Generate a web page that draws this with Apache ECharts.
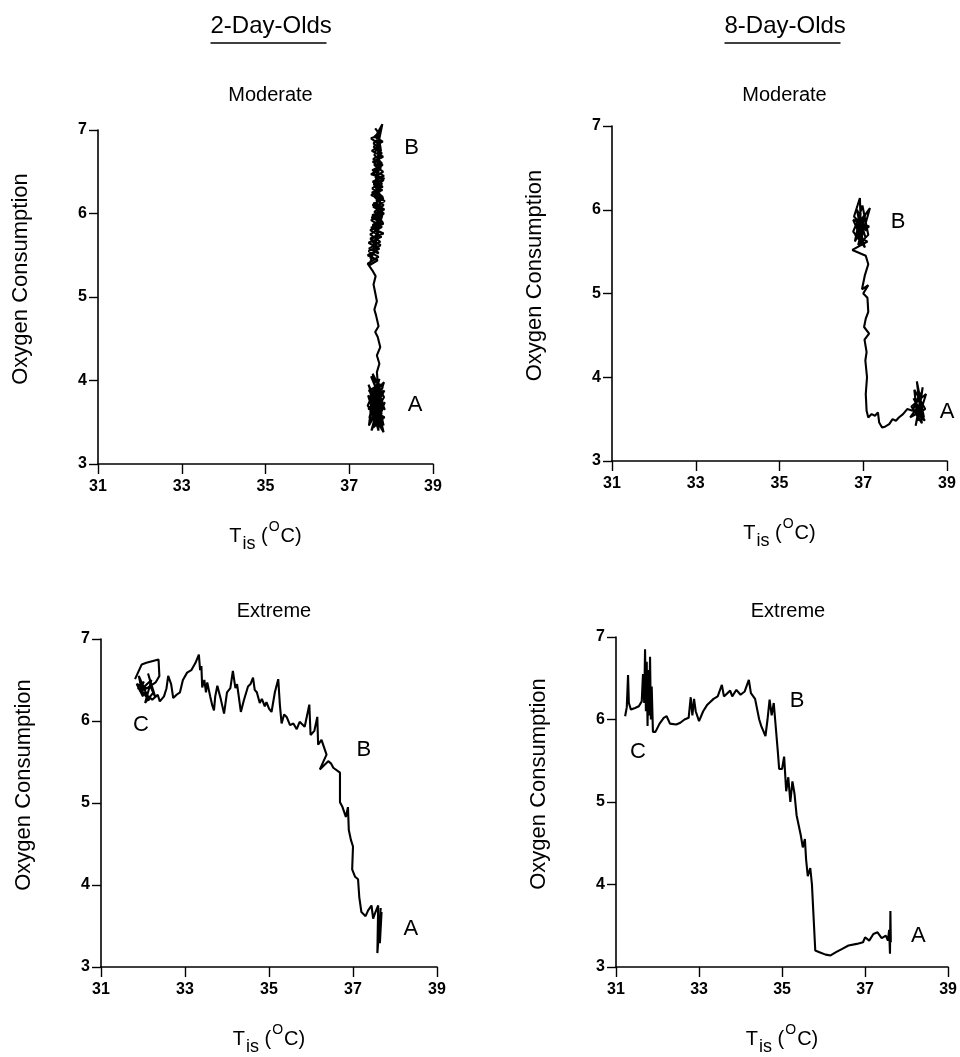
<!DOCTYPE html>
<html>
<head>
<meta charset="utf-8">
<script src="https://cdn.jsdelivr.net/npm/echarts@6/dist/echarts.min.js"></script>
<style>
html,body{margin:0;padding:0;background:#fff;}
#chart{width:960px;height:1057px;}
</style>
</head>
<body>
<div id="chart"></div>
<script>
// ---------- data (x = T_is in °C, y = oxygen consumption) ----------
const groupTitles = ['2-Day-Olds', '8-Day-Olds'];
const panelTitles = ['Moderate', 'Moderate', 'Extreme', 'Extreme'];
const xTicks = [31, 33, 35, 37, 39];
const yTicks = [3, 4, 5, 6, 7];

const moderate2 = [
  [37.62,3.72],[37.50,3.85],[37.78,3.60],[37.46,3.95],[37.80,3.42],[37.55,3.78],[37.84,3.88],[37.48,3.55],
  [37.72,4.02],[37.44,3.70],[37.82,3.38],[37.58,3.90],[37.47,3.46],[37.79,3.75],[37.52,4.05],[37.85,3.65],
  [37.45,3.82],[37.70,3.40],[37.60,4.00],[37.80,3.92],[37.50,3.62],[37.76,3.52],[37.56,4.08],[37.83,3.80],
  [37.48,3.50],[37.81,3.70],[37.53,3.40],[37.77,3.86],[37.46,3.66],[37.84,3.56],[37.58,3.44],[37.74,3.96],
  [37.50,3.76],[37.82,3.46],[37.62,3.92],[37.47,3.88],[37.79,3.64],[37.55,3.58],[37.85,3.74],[37.64,3.50],
  [37.70,3.84],[37.52,3.68],[37.76,3.44],[37.60,3.62],[37.83,3.98],[37.49,3.80],[37.68,3.56],[37.57,3.86],
  [37.80,3.50],[37.54,3.72],[37.73,3.66],[37.66,4.10],
  [37.72,4.20],[37.66,4.30],[37.74,4.40],[37.68,4.52],[37.62,4.58],[37.70,4.65],[37.64,4.78],
  [37.60,4.85],[37.66,4.95],[37.62,5.05],[37.58,5.15],[37.63,5.25],[37.55,5.32],[37.44,5.40],[37.70,5.48],
  [37.46,5.55],[37.75,5.62],[37.50,5.70],[37.82,5.76],[37.52,5.83],[37.80,5.90],[37.55,5.98],[37.84,6.05],
  [37.58,6.12],[37.82,6.18],[37.54,6.25],[37.80,6.32],[37.56,6.38],[37.83,6.45],[37.55,6.52],[37.80,6.58],
  [37.57,6.65],[37.78,6.72],[37.58,6.80],[37.80,6.86],[37.60,6.92],[37.77,7.00],[37.66,6.95],[37.79,7.07],
  [37.70,6.85],[37.60,6.70],[37.78,6.60],[37.58,6.48],[37.82,6.40],[37.55,6.30],[37.80,6.20],[37.56,6.10],
  [37.83,6.00],[37.52,5.92],[37.78,5.84],[37.50,5.75],[37.74,5.66],[37.47,5.58],[37.70,5.52],[37.58,5.62],
  [37.79,5.98],[37.62,6.35],[37.75,6.78],[37.68,6.98],[37.62,7.02],[37.74,6.94],[37.52,6.90],[37.74,6.82],
  [37.54,6.75],[37.81,6.68],[37.56,6.62],[37.76,6.55],[37.52,6.47],[37.84,6.42],[37.58,6.35],[37.79,6.28],
  [37.52,6.22],[37.85,6.15],[37.57,6.08],[37.80,6.02],[37.53,5.95],[37.82,5.88],[37.50,5.80],[37.77,5.72],
  [37.46,5.65],[37.72,5.58],[37.44,5.50],[37.68,5.44],[37.48,5.38],[37.62,5.60],[37.70,5.90],[37.64,6.25],
  [37.72,6.60],[37.66,6.88],[37.58,6.84],[37.76,6.76],[37.60,6.58],[37.81,6.50],[37.62,6.44],[37.78,6.36],
  [37.60,6.20],[37.82,6.10],[37.60,6.02],[37.76,5.94],[37.56,5.86],[37.72,5.78],[37.52,5.68],[37.68,5.60],
  [37.50,5.46],[37.66,5.70],[37.74,6.12],[37.68,6.50],[37.70,6.92]
];

const moderate8 = [
  [38.35,3.60],[38.20,3.75],[38.45,3.52],[38.28,3.95],[38.40,3.45],[38.15,3.65],[38.50,3.80],[38.30,3.48],
  [38.22,3.85],[38.48,3.62],[38.12,3.52],[38.38,3.70],[38.25,3.42],[38.42,3.88],[38.32,3.55],[38.47,3.48],
  [38.26,3.68],[38.36,3.82],[38.18,3.60],[38.05,3.62],[37.95,3.56],
  [37.85,3.52],[37.78,3.48],[37.70,3.50],[37.62,3.44],[37.52,3.41],[37.45,3.40],[37.38,3.46],[37.35,3.58],
  [37.28,3.54],[37.20,3.56],[37.12,3.52],[37.08,3.60],[37.06,3.80],[37.09,4.00],[37.05,4.20],[37.08,4.30],
  [37.03,4.45],[37.14,4.52],[37.02,4.60],[37.06,4.70],[37.12,4.78],[37.10,4.95],[37.00,5.00],[37.12,5.10],
  [36.97,5.05],[37.04,5.22],[37.12,5.35],[37.06,5.45],[36.74,5.52],[37.10,5.62],[36.80,5.70],[37.14,5.80],
  [36.76,5.88],[37.00,5.60],[36.85,6.00],[37.08,5.75],[36.78,5.92],[36.92,6.14],[36.95,5.65],[37.16,6.02],
  [36.82,5.78],[37.05,5.95],[36.88,5.58],[37.12,5.70],[36.98,6.05],[36.86,5.85],[37.04,5.55],[36.76,5.74],
  [36.94,5.96],[36.80,5.62],[37.02,5.82],[36.84,5.68],[36.90,5.92],[37.06,5.66]
];

const extreme2 = [
  [31.81,6.51],[31.97,6.69],[32.08,6.71],[32.37,6.75],[32.39,6.55],[32.30,6.47],[32.10,6.40],[31.85,6.45],
  [32.00,6.30],[31.90,6.55],[32.15,6.25],[31.95,6.38],[32.20,6.50],[32.05,6.22],[32.25,6.35],[32.12,6.58],
  [32.30,6.28],[32.18,6.42],[31.92,6.36],[32.02,6.48],[31.88,6.40],[32.08,6.32],[32.22,6.26],[32.35,6.32],
  [32.40,6.24],[32.50,6.30],[32.56,6.40],[32.60,6.55],[32.67,6.45],[32.72,6.28],[32.80,6.32],
  [32.88,6.35],[32.95,6.50],[33.05,6.59],[33.15,6.62],[33.25,6.71],[33.33,6.81],[33.36,6.62],[33.39,6.67],
  [33.41,6.41],[33.46,6.50],[33.50,6.35],
  [33.53,6.47],[33.60,6.30],[33.65,6.19],[33.69,6.13],[33.72,6.30],[33.77,6.43],[33.85,6.27],[33.93,6.09],[34.00,6.35],
  [34.08,6.40],[34.14,6.61],[34.20,6.40],[34.24,6.45],[34.33,6.11],[34.40,6.25],[34.44,6.27],[34.50,6.42],[34.56,6.45],[34.62,6.53],[34.66,6.38],[34.71,6.35],
  [34.78,6.22],[34.83,6.27],[34.90,6.18],[34.94,6.23],[35.00,6.15],[35.06,6.11],[35.14,6.35],[35.22,6.51],[35.26,6.19],[35.30,5.97],[35.36,6.08],[35.42,6.05],
  [35.50,5.95],[35.58,5.97],[35.66,5.90],[35.73,5.99],[35.85,5.93],[35.96,6.20],[35.99,5.83],[36.08,5.88],[36.15,6.05],
  [36.17,5.71],[36.25,5.77],[36.37,5.59],[36.21,5.41],[36.41,5.51],[36.48,5.48],[36.53,5.43],[36.69,5.37],[36.69,5.01],
  [36.75,4.95],[36.83,4.83],[36.88,4.95],[36.90,4.67],[36.95,4.55],[37.00,4.47],[36.98,4.19],[37.05,4.10],
  [37.12,4.07],[37.15,3.85],[37.20,3.67],[37.30,3.62],[37.36,3.69],[37.44,3.75],[37.48,3.59],[37.52,3.65],
  [37.60,3.75],[37.58,3.17],[37.63,3.50],[37.68,3.67],[37.64,3.29],[37.62,3.60],[37.59,3.25],[37.66,3.72]
];

const extreme8 = [
  [31.22,6.04],[31.26,6.15],[31.29,6.54],[31.31,6.20],[31.36,6.12],[31.46,6.14],[31.55,6.16],[31.62,6.22],
  [31.65,6.55],[31.68,6.20],[31.70,6.85],[31.72,6.10],[31.74,6.70],[31.76,5.92],[31.78,6.60],[31.80,6.05],
  [31.82,6.76],[31.84,6.00],[31.86,6.40],[31.89,5.85],[31.95,5.85],[32.05,5.95],[32.15,6.02],[32.22,6.04],
  [32.30,5.95],[32.45,5.94],[32.55,5.96],[32.65,6.00],[32.75,6.02],[32.80,6.27],[32.84,6.05],[32.88,6.25],
  [32.92,6.10],[33.00,5.98],[33.10,6.10],[33.20,6.18],[33.35,6.25],[33.45,6.28],[33.55,6.42],[33.60,6.28],
  [33.75,6.35],[33.80,6.28],[33.90,6.36],[34.00,6.30],[34.10,6.34],[34.20,6.48],[34.25,6.32],[34.35,6.25],
  [34.45,6.00],[34.50,5.92],[34.60,5.80],[34.65,6.00],[34.70,6.24],[34.75,6.05],[34.80,6.20],[34.85,5.90],
  [34.90,5.60],[34.93,5.40],[35.00,5.40],[35.05,5.55],[35.10,5.13],[35.15,5.30],[35.20,5.00],[35.25,5.25],
  [35.30,5.10],[35.35,4.84],[35.45,4.60],[35.50,4.45],[35.55,4.55],[35.58,4.30],[35.62,4.10],[35.68,4.20],
  [35.72,4.00],[35.75,3.70],[35.80,3.20],[35.90,3.18],[36.05,3.15],[36.17,3.14],[36.30,3.18],[36.45,3.22],
  [36.60,3.26],[36.80,3.28],[36.95,3.30],[37.00,3.36],[37.10,3.32],[37.20,3.40],[37.30,3.42],[37.40,3.35],
  [37.50,3.38],[37.55,3.32],[37.58,3.45],[37.60,3.16],[37.61,3.68],[37.62,3.30]
];

// letter annotations [x, y, text]
const letters2M = [[38.49,6.78,'B'],[38.57,3.71,'A']];
const letters8M = [[37.83,5.85,'B'],[39.00,3.59,'A']];
const letters2E = [[31.95,5.95,'C'],[37.26,5.65,'B'],[38.38,3.46,'A']];
const letters8E = [[31.53,5.61,'C'],[35.36,6.22,'B'],[38.28,3.38,'A']];

// ---------- chart ----------
const FONT = '"Liberation Sans", Arial, Helvetica, sans-serif';
const grids = [
  {left: 98,  top: 130, width: 335, height: 334},
  {left: 612, top: 126, width: 335, height: 335},
  {left: 101, top: 639, width: 336, height: 332},
  {left: 616, top: 637, width: 334, height: 333}
];
const traces = [moderate2, moderate8, extreme2, extreme8];
const letterSets = [letters2M, letters8M, letters2E, letters8E];

const xName = '{t|T}{s|is}{t| (}{p|O}{t|C)}';
const xRich = {
  t: {fontSize: 20, fontFamily: FONT, color: '#000', verticalAlign: 'middle'},
  s: {fontSize: 18, fontFamily: FONT, color: '#000', verticalAlign: 'bottom', padding: [15, 0, 0, 1]},
  p: {fontSize: 14, fontFamily: FONT, color: '#000', verticalAlign: 'top', padding: [0, 1, 13, 1]}
};

const axisLine = {show: true, lineStyle: {color: '#000', width: 1.6}};

const option = {
  backgroundColor: '#fff',
  animation: false,
  grid: grids,
  xAxis: grids.map((g, i) => ({
    type: 'value', gridIndex: i, min: xTicks[0], max: xTicks[xTicks.length - 1], interval: 2,
    axisLine: axisLine, splitLine: {show: false},
    axisTick: {show: true, length: 10, lineStyle: {color: '#000', width: 1.4}},
    axisLabel: {fontSize: 16, fontWeight: 'bold', fontFamily: FONT, color: '#000', margin: 15},
    name: xName, nameLocation: 'middle', nameGap: 56,
    nameTextStyle: {rich: xRich}
  })),
  yAxis: grids.map((g, i) => ({
    type: 'value', gridIndex: i, min: yTicks[0], max: yTicks[yTicks.length - 1], interval: 1,
    axisLine: axisLine, splitLine: {show: false},
    axisTick: {show: true, length: 9, lineStyle: {color: '#000', width: 1.4}},
    axisLabel: {fontSize: 16, fontWeight: 'bold', fontFamily: FONT, color: '#000', margin: 11},
    name: 'Oxygen Consumption', nameLocation: 'middle', nameGap: 66, nameRotate: 90,
    nameTextStyle: {fontSize: 22, fontFamily: FONT, color: '#000', padding: [0, 0, 0, 36]}
  })),
  title: grids.map((g, i) => ({
    text: panelTitles[i],
    left: g.left + g.width / 2, top: i < 2 ? 80 : 596, textAlign: 'center',
    textStyle: {fontSize: 20, fontWeight: 'normal', fontFamily: FONT, color: '#000'}
  })),
  graphic: [0, 1].flatMap(i => {
    const cx = grids[i].left + grids[i].width / 2 + 2;
    return [
      {type: 'text', left: cx - 57, top: 14, style: {text: groupTitles[i], font: '24px ' + FONT, fill: '#000'}},
      {type: 'line', shape: {x1: cx - 57, y1: 43, x2: cx + 59, y2: 43}, style: {stroke: '#000', lineWidth: 1.7}}
    ];
  }),
  series: traces.flatMap((tr, i) => [
    {
      type: 'line', xAxisIndex: i, yAxisIndex: i, data: tr, showSymbol: false, symbol: 'none',
      lineStyle: {color: '#000', width: 2.1}, clip: false, silent: true
    },
    {
      type: 'scatter', xAxisIndex: i, yAxisIndex: i, symbolSize: 0, silent: true,
      itemStyle: {color: '#000', opacity: 1},
      data: letterSets[i].map(d => ({value: [d[0], d[1]], name: d[2]})),
      label: {show: true, position: 'inside', formatter: p => p.name, fontSize: 22, fontFamily: FONT, color: '#000', opacity: 1}
    }
  ])
};

const chart = echarts.init(document.getElementById('chart'), null, {renderer: 'canvas'});
chart.setOption(option);
</script>
</body>
</html>
